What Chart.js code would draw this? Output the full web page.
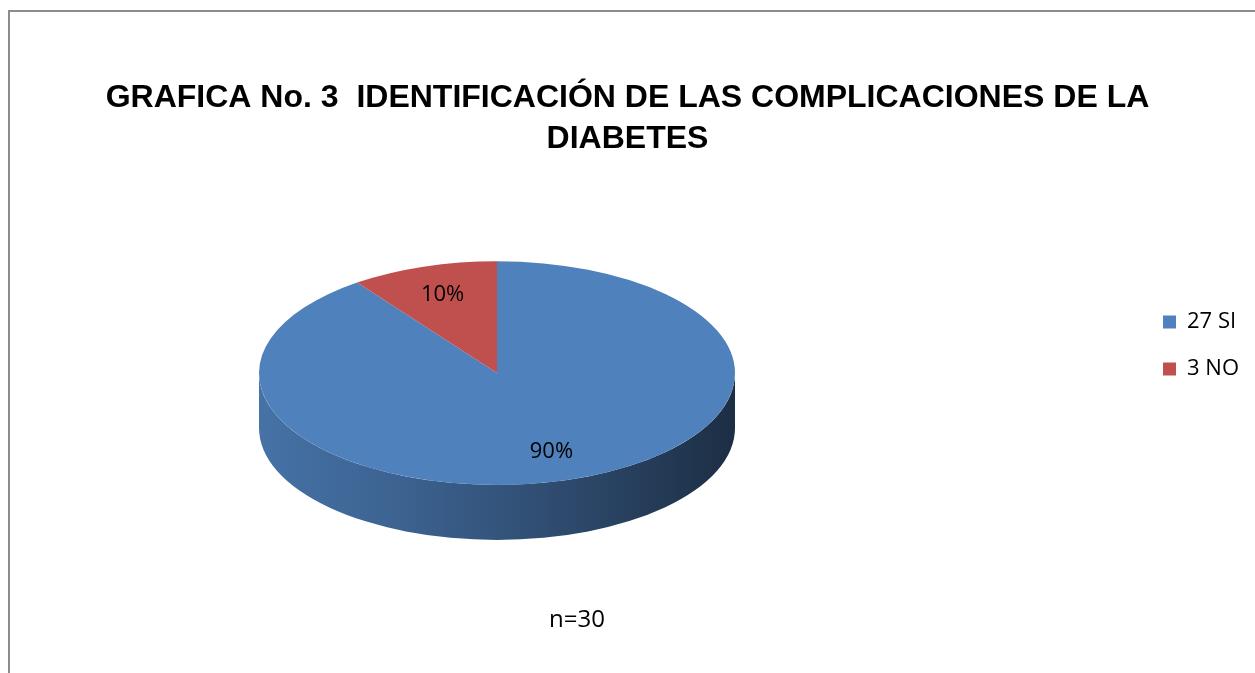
<!DOCTYPE html>
<html>
<head>
<meta charset="utf-8">
<script src="https://cdn.jsdelivr.net/npm/chart.js@4/dist/chart.umd.min.js"></script>
<style>
  html, body { margin: 0; padding: 0; background: #fff; overflow: hidden; }
  #frame { position: absolute; left: 8px; top: 10px; width: 1400px; height: 800px;
           border: 2px solid #8c8c8c; box-sizing: border-box; }
  #chart { position: absolute; left: 0; top: 0; }
</style>
</head>
<body>
<div id="frame"></div>
<canvas id="chart" width="1255" height="673"></canvas>
<script>
const categories = ['27 SI', '3 NO'];
const counts = [27, 3];
const colors = ['#4f81bd', '#c0504d'];
const titleLines = ['GRAFICA No. 3  IDENTIFICACIÓN DE LAS COMPLICACIONES DE LA', 'DIABETES'];
const note = 'n=30';

const TILT = 0.47;   // vertical squash of the pie top
const DEPTH = 55;    // thickness of the pie side
const NOTE_X = 577;
// left -> right shading of the side wall
const sideStops = [[0, 0.88], [0.3, 0.76], [0.55, 0.63], [0.8, 0.48], [1, 0.36]];

function shade(hex, f) {
    const n = parseInt(hex.slice(1), 16);
    const r = Math.round(((n >> 16) & 255) * f);
    const g = Math.round(((n >> 8) & 255) * f);
    const b = Math.round((n & 255) * f);
    return 'rgb(' + r + ',' + g + ',' + b + ')';
}

// empty layout boxes used to push the plot area / legend into place
function spacer(position, weight, size, drawFn) {
    return {
        position: position, weight: weight, fullSize: false, options: {},
        left: 0, top: 0, right: 0, bottom: 0, width: 0, height: 0,
        isHorizontal() { return position === 'top' || position === 'bottom'; },
        update(maxWidth, maxHeight) {
            if (this.isHorizontal()) { this.width = maxWidth; this.height = size; }
            else { this.width = size; this.height = maxHeight; }
        },
        draw() { if (drawFn) drawFn(this); }
    };
}

const spacers = {
    id: 'spacers',
    beforeInit(chart) {
        Chart.layouts.addBox(chart, spacer('right', 0, 144));
        Chart.layouts.addBox(chart, spacer('right', 2000, 6));
        Chart.layouts.addBox(chart, spacer('bottom', 0, 87, function (box) {
            const ctx = chart.ctx;
            ctx.save();
            ctx.font = '24px "Open Sans"';
            ctx.fillStyle = '#000';
            ctx.textAlign = 'center';
            ctx.textBaseline = 'middle';
            ctx.fillText(note, NOTE_X, box.top + 34);
            ctx.restore();
        }));
    }
};

function drawSide(ctx, arc) {
    const x = arc.x, y = arc.y, r = arc.outerRadius, ry = r * TILT;
    const color = arc.options.backgroundColor;
    for (let k = -1; k <= 1; k++) {
        const a0 = Math.max(arc.startAngle + k * 2 * Math.PI, 0);
        const a1 = Math.min(arc.endAngle + k * 2 * Math.PI, Math.PI);
        if (a1 <= a0) continue;
        const g = ctx.createLinearGradient(x - r, 0, x + r, 0);
        sideStops.forEach(function (s) { g.addColorStop(s[0], shade(color, s[1])); });
        ctx.beginPath();
        ctx.ellipse(x, y, r, ry, 0, a0, a1);
        ctx.lineTo(x + r * Math.cos(a1), y + ry * Math.sin(a1) + DEPTH);
        ctx.ellipse(x, y + DEPTH, r, ry, 0, a1, a0, true);
        ctx.closePath();
        ctx.fillStyle = g;
        ctx.fill();
    }
}

const pie3d = {
    id: 'pie3d',
    beforeDatasetsDraw(chart) {
        const ctx = chart.ctx;
        const arcs = chart.getDatasetMeta(0).data;
        const cx = arcs[0].x, cy = arcs[0].y;
        arcs.forEach(function (arc) { drawSide(ctx, arc); });
        ctx.save();
        ctx.translate(cx, cy);
        ctx.scale(1, TILT);
        ctx.translate(-cx, -cy);
    },
    afterDatasetsDraw(chart) {
        const ctx = chart.ctx;
        ctx.restore();
        const arcs = chart.getDatasetMeta(0).data;
        const total = counts.reduce(function (a, b) { return a + b; }, 0);
        ctx.save();
        ctx.font = '22px "Open Sans"';
        ctx.fillStyle = '#000';
        ctx.textAlign = 'center';
        ctx.textBaseline = 'middle';
        arcs.forEach(function (arc, i) {
            const mid = (arc.startAngle + arc.endAngle) / 2;
            const d = arc.outerRadius * 0.74;
            const px = arc.x + Math.cos(mid) * d;
            const py = arc.y + Math.sin(mid) * d * TILT;
            ctx.fillText(Math.round(counts[i] / total * 100) + '%', px, py);
        });
        ctx.restore();
    }
};

const ctx = document.getElementById('chart').getContext('2d');
new Chart(ctx, {
    type: 'pie',
    data: {
        labels: categories,
        datasets: [{
            data: counts,
            backgroundColor: colors,
            borderWidth: 0,
            radius: 238
        }]
    },
    options: {
        responsive: false,
        animation: false,
        events: [],
        layout: { padding: { top: 18 } },
        plugins: {
            title: {
                display: true,
                text: titleLines,
                color: '#000',
                font: { family: '"Liberation Sans", Arial', size: 32, weight: 'bold', lineHeight: 1.3 },
                padding: { top: 59, bottom: 0 }
            },
            legend: {
                display: true,
                position: 'right',
                labels: {
                    color: '#000',
                    boxWidth: 13,
                    boxHeight: 13,
                    padding: 25,
                    font: { family: '"Open Sans"', size: 22 }
                }
            },
            tooltip: { enabled: false }
        }
    },
    plugins: [spacers, pie3d]
});
</script>
</body>
</html>
